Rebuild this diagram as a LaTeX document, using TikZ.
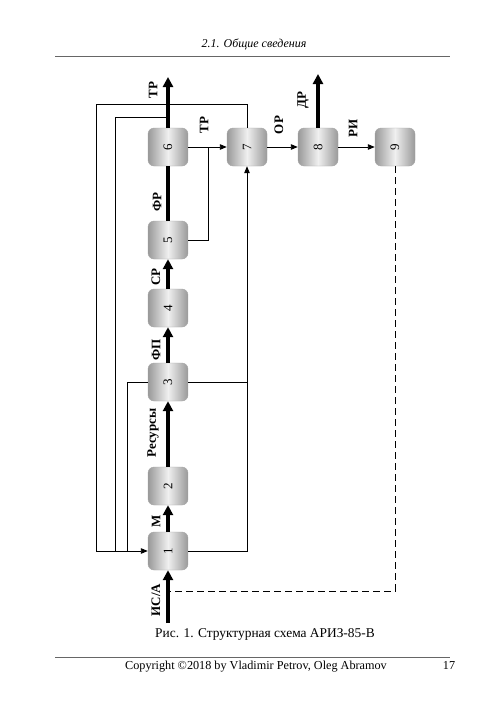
\documentclass[tikz,border=0pt]{standalone}
\usepackage{fontspec}
\setmainfont{Liberation Serif}
\usetikzlibrary{arrows.meta}
\begin{document}
\begin{tikzpicture}[x=1pt,y=-1pt,
  blk/.style={rounded corners=6pt, minimum width=40pt, minimum height=38pt,
    left color=gray!80, right color=gray!80, middle color=gray!12,
    draw=gray!70, line width=0.4pt, inner sep=0pt, font=\fontsize{13}{13}\selectfont},
  thick arr/.style={line width=3.2pt, -{Triangle[length=10pt,width=10pt]}},
  thick line/.style={line width=3.2pt},
  thin arr/.style={line width=0.9pt, -{Triangle[length=7pt,width=5.5pt]}},
  thin line/.style={line width=0.9pt},
  lbl/.style={rotate=90, font=\bfseries\fontsize{13}{13}\selectfont, inner sep=0pt},
  ]
\useasboundingbox (0,0) rectangle (500,707);
\fill[white] (0,0) rectangle (500,707);
% header and footer
\node[anchor=base] (hdr) at (254,47) {\itshape\fontsize{12}{12}\selectfont 2.1. Общие сведения};
\coordinate (hr1) at (55,56); \coordinate (hr2) at (450,56);
\draw[line width=0.9pt, gray!80!black] (hr1) -- (hr2);
\coordinate (fr1) at (55,657); \coordinate (fr2) at (450,657);
\draw[line width=0.9pt, gray!80!black] (fr1) -- (fr2);
\node[anchor=base] (ftr) at (256,669) {\fontsize{12.2}{12}\selectfont Copyright ©2018 by Vladimir Petrov, Oleg Abramov};
\node[anchor=base] (pg) at (449,669) {\fontsize{12.2}{12}\selectfont 17};
\node[anchor=base] (cap) at (265,637) {\fontsize{13.4}{13}\selectfont Рис. 1. Структурная схема АРИЗ-85-В};
% blocks
\node[blk] (b1) at (168,551) {\rotatebox{90}{1}};
\node[blk] (b2) at (168,486) {\rotatebox{90}{2}};
\node[blk] (b3) at (168,382) {\rotatebox{90}{3}};
\node[blk] (b4) at (168,308) {\rotatebox{90}{4}};
\node[blk] (b5) at (168,240) {\rotatebox{90}{5}};
\node[blk] (b6) at (168,147) {\rotatebox{90}{6}};
\node[blk] (b7) at (247,147) {\rotatebox{90}{7}};
\node[blk] (b8) at (318,147) {\rotatebox{90}{8}};
\node[blk] (b9) at (395,147) {\rotatebox{90}{9}};
% coordinates
\coordinate (top6) at (168,77);
\coordinate (top8) at (318,74);
\coordinate (inp) at (168,623);
\coordinate (j5a) at (208,240);
\coordinate (j5b) at (208,147);
\coordinate (r1) at (247,551);
\coordinate (r3) at (247,382);
\coordinate (o1) at (247,104);
\coordinate (o2) at (96,104);
\coordinate (o3) at (96,551);
\coordinate (m1) at (168,117);
\coordinate (m2) at (115,117);
\coordinate (m3) at (115,551);
\coordinate (i2) at (127,382);
\coordinate (i3) at (127,551);
\coordinate (d1) at (395,591);
\coordinate (d2) at (168,591);
% thick main chain
\draw[thick arr] (inp) -- (b1.south);
\draw[thick arr] (b1) -- (b2);
\draw[thick arr] (b2) -- (b3);
\draw[thick arr] (b3) -- (b4);
\draw[thick arr] (b4) -- (b5);
\draw[thick line] (b5) -- (b6);
\draw[thick arr] (b6.north) -- (top6);
\draw[thick arr] (b8.north) -- (top8);
% thin connectors
\draw[thin arr] (b6) -- (b7);
\draw[thin line] (b5.east) -- (j5a) -- (j5b);
\draw[thin arr] (b7) -- (b8);
\draw[thin arr] (b8) -- (b9);
\draw[thin arr] (b1.east) -- (r1) -- (b7.south);
\draw[thin line] (b3.east) -- (r3);
\draw[thin arr] (b7.north) -- (o1) -- (o2) -- (o3) -- (b1.west);
\draw[thin line] (m1) -- (m2) -- (m3);
\draw[thin line] (b3.west) -- (i2) -- (i3);
\draw[thin line, dash pattern=on 7pt off 4pt] (b9.south) -- (d1) -- (d2);
% labels
\node[lbl] (lTR1) at (153,90) {ТР};
\node[lbl] (lTR2) at (204,125) {ТР};
\node[lbl] (lOR) at (279,125) {ОР};
\node[lbl] (lDR) at (303,100) {ДР};
\node[lbl] (lRI) at (353,128) {РИ};
\node[lbl] (lFR) at (157,202) {ФР};
\node[lbl] (lSR) at (156,277) {СР};
\node[lbl] (lFP) at (156,350) {ФП};
\node[lbl] (lRes) at (153,433) {Ресурсы};
\node[lbl] (lM) at (156,521) {М};
\node[lbl] (lIS) at (156,600) {ИС/А};
\end{tikzpicture}
\end{document}
